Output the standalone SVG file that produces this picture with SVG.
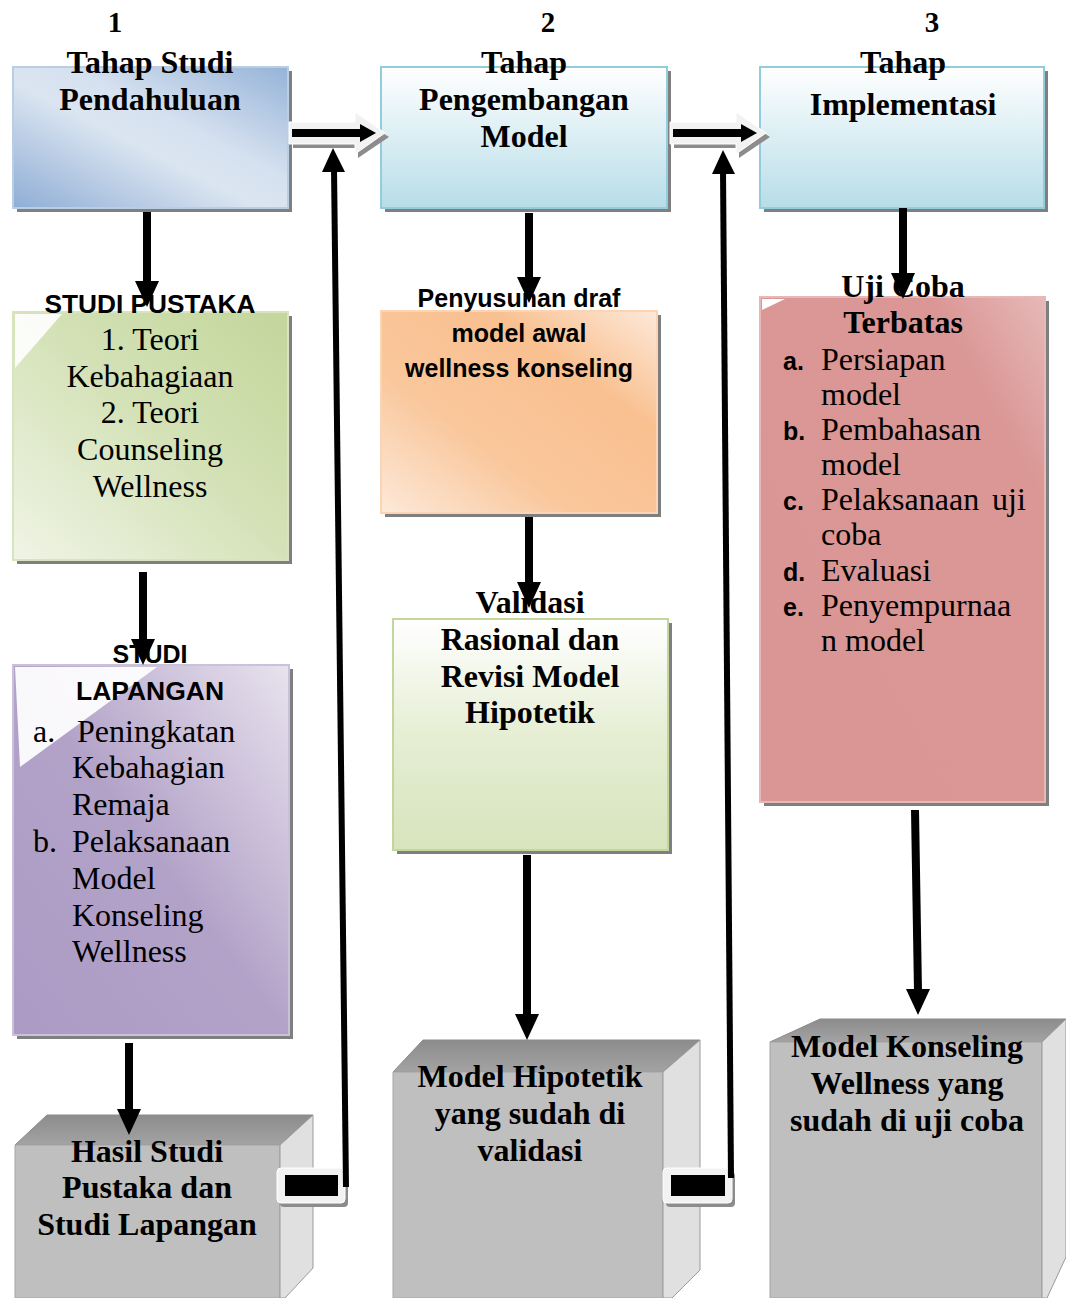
<svg xmlns="http://www.w3.org/2000/svg" width="1066" height="1298" viewBox="0 0 1066 1298">
<style>
.sb{font-family:"Liberation Serif","Times New Roman",serif;font-weight:bold;font-size:32px;fill:#000;text-anchor:middle}
.sr{font-family:"Liberation Serif","Times New Roman",serif;font-size:32px;fill:#000}
.ss{font-family:"Liberation Sans",Arial,sans-serif;font-weight:bold;font-size:25px;fill:#000}
.num{font-family:"Liberation Serif","Times New Roman",serif;font-weight:bold;font-size:29px;text-anchor:middle}
.shadow{fill:#7f7f7f}
.ar{stroke:#000;stroke-width:8;fill:none}
.rl{stroke:#000;stroke-width:6;fill:none}
.head{fill:#000}
.cubeTop{fill:url(#gTop);stroke:#8a8a8a;stroke-width:1}
.cubeFront{fill:#bfbfbf;stroke:#a6a6a6;stroke-width:1}
.cubeSide{fill:#e0e0e0;stroke:#9a9a9a;stroke-width:1}
</style>
<defs>
<linearGradient id="gBlue" x1="0" y1="1" x2="1" y2="0">
<stop offset="0" stop-color="#8eadd5"/><stop offset="0.45" stop-color="#dbe5f1"/><stop offset="0.6" stop-color="#d6e1f0"/><stop offset="1" stop-color="#95b3d7"/>
</linearGradient>
<linearGradient id="gCyan" x1="0" y1="0" x2="0" y2="1">
<stop offset="0" stop-color="#ffffff"/><stop offset="1" stop-color="#b7dde8"/>
</linearGradient>
<linearGradient id="gGreen" x1="0" y1="1" x2="1" y2="0">
<stop offset="0" stop-color="#f0f4e6"/><stop offset="0.55" stop-color="#d3e1b5"/><stop offset="1" stop-color="#c3d69b"/>
</linearGradient>
<linearGradient id="gLav" x1="0" y1="1" x2="1" y2="0">
<stop offset="0" stop-color="#ab9bc4"/><stop offset="0.5" stop-color="#b3a2c8"/><stop offset="1" stop-color="#e8e3ee"/>
</linearGradient>
<linearGradient id="gOrange" x1="0" y1="1" x2="1" y2="0">
<stop offset="0" stop-color="#fde9d9"/><stop offset="0.35" stop-color="#f9c79c"/><stop offset="0.7" stop-color="#f9c090"/><stop offset="1" stop-color="#fde9d9"/>
</linearGradient>
<linearGradient id="gGreen2" x1="0" y1="0" x2="0" y2="1">
<stop offset="0" stop-color="#ffffff"/><stop offset="0.5" stop-color="#e6eed4"/><stop offset="1" stop-color="#d7e4bd"/>
</linearGradient>
<linearGradient id="gRed" x1="0" y1="1" x2="1" y2="0">
<stop offset="0" stop-color="#d99694"/><stop offset="0.8" stop-color="#da9795"/><stop offset="1" stop-color="#e6b9b8"/>
</linearGradient>
<linearGradient id="gTop" x1="0" y1="0" x2="0" y2="1">
<stop offset="0" stop-color="#8c8c8c"/><stop offset="1" stop-color="#a3a3a3"/>
</linearGradient>
</defs>

<!-- stage numbers -->
<text class="num" x="115" y="32">1</text>
<text class="num" x="548" y="32">2</text>
<text class="num" x="932" y="32">3</text>

<!-- Top boxes -->
<g id="stage1">
<rect class="shadow" x="17" y="71" width="275" height="141"/>
<rect x="13" y="67" width="275" height="141" fill="url(#gBlue)" stroke="#b9cde5" stroke-width="2"/>
<text class="sb" x="150" y="73">Tahap Studi</text>
<text class="sb" x="150" y="110">Pendahuluan</text>
</g>
<g id="stage2">
<rect class="shadow" x="385" y="71" width="286" height="141"/>
<rect x="381" y="67" width="286" height="141" fill="url(#gCyan)" stroke="#93cddd" stroke-width="2"/>
<text class="sb" x="524" y="73">Tahap</text>
<text class="sb" x="524" y="110">Pengembangan</text>
<text class="sb" x="524" y="147">Model</text>
</g>
<g id="stage3">
<rect class="shadow" x="764" y="71" width="284" height="141"/>
<rect x="760" y="67" width="284" height="141" fill="url(#gCyan)" stroke="#93cddd" stroke-width="2"/>
<text class="sb" x="903" y="73">Tahap</text>
<text class="sb" x="903" y="115">Implementasi</text>
</g>

<!-- Column 1 -->
<g id="studi-pustaka">
<rect class="shadow" x="17" y="316" width="275" height="248"/>
<rect x="13" y="312" width="275" height="248" fill="url(#gGreen)" stroke="#d7e4bd" stroke-width="2"/>
<polygon points="15,314 62,314 15,368" fill="#ffffff" opacity="0.9"/>
<text class="ss" x="150" y="313" text-anchor="middle" font-size="26" textLength="211" lengthAdjust="spacingAndGlyphs">STUDI PUSTAKA</text>
<text class="sr" x="150" y="350" text-anchor="middle">1. Teori</text>
<text class="sr" x="150" y="387" text-anchor="middle">Kebahagiaan</text>
<text class="sr" x="150" y="423" text-anchor="middle">2. Teori</text>
<text class="sr" x="150" y="460" text-anchor="middle">Counseling</text>
<text class="sr" x="150" y="497" text-anchor="middle">Wellness</text>
</g>
<g id="studi-lapangan">
<rect class="shadow" x="17" y="669" width="276" height="370"/>
<rect x="13" y="665" width="276" height="370" fill="url(#gLav)" stroke="#ccc1da" stroke-width="2"/>
<polygon points="15,667 157,667 20,767" fill="#ffffff" opacity="0.92"/>
<text class="ss" x="150" y="663" text-anchor="middle" font-size="26">STUDI</text>
<text class="ss" x="150" y="700" text-anchor="middle" font-size="26" textLength="148" lengthAdjust="spacingAndGlyphs">LAPANGAN</text>
<text class="sr" x="33" y="742">a.</text><text class="sr" x="77" y="742">Peningkatan</text>
<text class="sr" x="72" y="778">Kebahagian</text>
<text class="sr" x="72" y="815">Remaja</text>
<text class="sr" x="33" y="852">b.</text><text class="sr" x="72" y="852">Pelaksanaan</text>
<text class="sr" x="72" y="889">Model</text>
<text class="sr" x="72" y="926">Konseling</text>
<text class="sr" x="72" y="962">Wellness</text>
</g>
<g id="hasil-studi">
<polygon class="cubeTop" points="15,1145 47,1115 313,1115 280,1145"/>
<polygon class="cubeFront" points="15,1145 280,1145 280,1298 15,1298"/>
<polygon class="cubeSide" points="280,1145 313,1115 313,1268 285,1298 280,1298"/>
<text class="sb" x="147" y="1162">Hasil Studi</text>
<text class="sb" x="147" y="1198">Pustaka dan</text>
<text class="sb" x="147" y="1235">Studi Lapangan</text>
</g>

<!-- Column 2 -->
<g id="draf">
<rect class="shadow" x="385" y="315" width="276" height="202"/>
<rect x="381" y="311" width="276" height="202" fill="url(#gOrange)" stroke="#fbd4b4" stroke-width="2"/>
<text class="ss" x="519" y="307" text-anchor="middle">Penyusunan draf</text>
<text class="ss" x="519" y="342" text-anchor="middle">model awal</text>
<text class="ss" x="519" y="377" text-anchor="middle">wellness konseling</text>
</g>
<g id="validasi">
<rect class="shadow" x="397" y="623" width="275" height="231"/>
<rect x="393" y="619" width="275" height="231" fill="url(#gGreen2)" stroke="#c3d69b" stroke-width="2"/>
<text class="sb" x="530" y="613">Validasi</text>
<text class="sb" x="530" y="650">Rasional dan</text>
<text class="sb" x="530" y="687">Revisi Model</text>
<text class="sb" x="530" y="723">Hipotetik</text>
</g>
<g id="model-hipotetik">
<polygon class="cubeTop" points="393,1072 423,1040 700,1040 663,1072"/>
<polygon class="cubeFront" points="393,1072 663,1072 663,1298 393,1298"/>
<polygon class="cubeSide" points="663,1072 700,1040 700,1270 672,1298 663,1298"/>
<text class="sb" x="530" y="1087">Model Hipotetik</text>
<text class="sb" x="530" y="1124">yang sudah di</text>
<text class="sb" x="530" y="1161">validasi</text>
</g>

<!-- Column 3 -->
<g id="uji-coba">
<rect class="shadow" x="764" y="301" width="285" height="505"/>
<rect x="760" y="297" width="285" height="505" fill="url(#gRed)" stroke="#e6b9b8" stroke-width="2"/>
<polygon points="762,299 785,299 762,310" fill="#ffffff"/>
<text class="sb" x="903" y="297">Uji Coba</text>
<text class="sb" x="903" y="333">Terbatas</text>
<text class="ss" x="783" y="370" font-size="24">a.</text><text class="sr" x="821" y="370">Persiapan</text>
<text class="sr" x="821" y="405">model</text>
<text class="ss" x="783" y="440" font-size="24">b.</text><text class="sr" x="821" y="440">Pembahasan</text>
<text class="sr" x="821" y="475">model</text>
<text class="ss" x="783" y="510" font-size="24">c.</text><text class="sr" x="821" y="510">Pelaksanaan <tspan x="992">uji</tspan></text>
<text class="sr" x="821" y="545">coba</text>
<text class="ss" x="783" y="581" font-size="24">d.</text><text class="sr" x="821" y="581">Evaluasi</text>
<text class="ss" x="783" y="616" font-size="24">e.</text><text class="sr" x="821" y="616">Penyempurnaa</text>
<text class="sr" x="821" y="651">n model</text>
</g>
<g id="model-konseling">
<polygon class="cubeTop" points="770,1042 820,1019 1066,1019 1042,1042"/>
<polygon class="cubeFront" points="770,1042 1042,1042 1042,1298 770,1298"/>
<polygon class="cubeSide" points="1042,1042 1066,1019 1066,1257 1047,1298 1042,1298"/>
<text class="sb" x="907" y="1057">Model Konseling</text>
<text class="sb" x="907" y="1094">Wellness yang</text>
<text class="sb" x="907" y="1131">sudah di uji coba</text>
</g>

<!-- Connectors -->
<g id="connectors">
<line class="ar" x1="147" y1="212" x2="147" y2="284"/><polygon class="head" points="135,281 159,281 147,307"/>
<line class="ar" x1="143" y1="572" x2="143" y2="642"/><polygon class="head" points="131,639 155,639 143,665"/>
<line class="ar" x1="129" y1="1043" x2="129" y2="1112"/><polygon class="head" points="117,1109 141,1109 129,1135"/>
<line class="ar" x1="529" y1="213" x2="529" y2="280"/><polygon class="head" points="517,277 541,277 529,303"/>
<line class="ar" x1="529" y1="517" x2="529" y2="585"/><polygon class="head" points="517,582 541,582 529,608"/>
<line class="ar" x1="527" y1="855" x2="527" y2="1017"/><polygon class="head" points="515,1014 539,1014 527,1040"/>
<line class="ar" x1="903" y1="208" x2="903" y2="276"/><polygon class="head" points="891,273 915,273 903,299"/>
<line class="ar" x1="915" y1="810" x2="918" y2="992"/><polygon class="head" points="906,989 930,989 918,1015"/>

<g id="blockarrow1">
<polygon points="293,126 358,126 358,117 389,137 358,158 358,148 293,148" fill="#8c8c8c"/>
<polygon points="289,122 355,122 355,112 385,133 355,154 355,144 289,144" fill="#f2f2f2" stroke="#ffffff" stroke-width="1"/>
<rect x="292" y="129" width="70" height="8" fill="#000"/>
<polygon points="360,124 376,133 360,142" fill="#000"/>
</g>
<g id="blockarrow2">
<polygon points="674,126 739,126 739,117 770,137 739,158 739,148 674,148" fill="#8c8c8c"/>
<polygon points="670,122 736,122 736,112 766,133 736,154 736,144 670,144" fill="#f2f2f2" stroke="#ffffff" stroke-width="1"/>
<rect x="673" y="129" width="70" height="8" fill="#000"/>
<polygon points="741,124 757,133 741,142" fill="#000"/>
</g>

<g id="return1">
<rect x="280" y="1172" width="68" height="35" rx="4" fill="#8c8c8c"/>
<rect x="277" y="1168" width="68" height="35" rx="4" fill="#f2f2f2" stroke="#ffffff"/>
<rect x="285" y="1175" width="53" height="21" fill="#000"/>
<line class="rl" x1="346" y1="1187" x2="334" y2="168"/>
<polygon class="head" points="322,172 345,172 333,148"/>
</g>
<g id="return2">
<rect x="666" y="1172" width="69" height="35" rx="4" fill="#8c8c8c"/>
<rect x="663" y="1168" width="69" height="35" rx="4" fill="#f2f2f2" stroke="#ffffff"/>
<rect x="671" y="1175" width="54" height="21" fill="#000"/>
<line class="rl" x1="731" y1="1178" x2="723" y2="170"/>
<polygon class="head" points="712,174 735,174 723,150"/>
</g>
</g>
</svg>
